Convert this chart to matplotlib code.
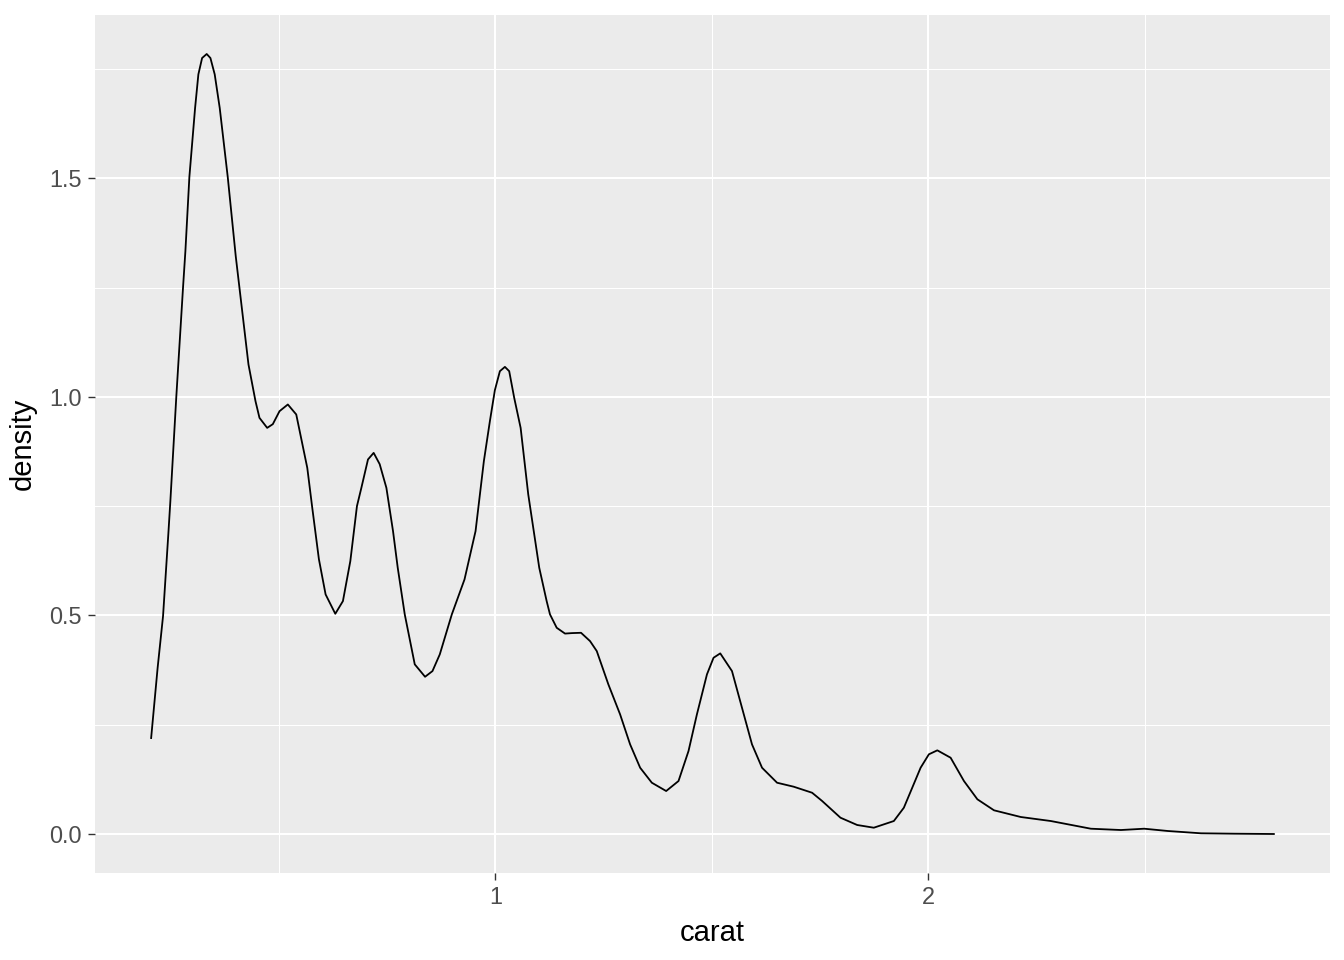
import numpy as np
import matplotlib
matplotlib.use("Agg")
import matplotlib.pyplot as plt

# density curve of carat
carat = [0.205, 0.220, 0.2325, 0.2447, 0.2494, 0.2632, 0.2787, 0.2841, 0.2933, 0.3065,
         0.3141, 0.3227, 0.3333, 0.3419, 0.3518, 0.3634, 0.3819, 0.4004, 0.4298, 0.4460,
         0.4552, 0.4730, 0.4860, 0.5015, 0.5207, 0.5401, 0.5656, 0.5771, 0.5924, 0.6079,
         0.6303, 0.6479, 0.6650, 0.6803, 0.6905, 0.7058, 0.7189, 0.7328, 0.7483, 0.7636,
         0.7745, 0.7907, 0.8138, 0.8376, 0.8547, 0.8716, 0.8994, 0.9287, 0.9542, 0.9734,
         0.9873, 0.9988, 1.0104, 1.0220, 1.0319, 1.0435, 1.0583, 1.0759, 1.1013, 1.1184,
         1.1261, 1.1416, 1.1608, 1.1770, 1.1978, 1.2186, 1.2341, 1.2609, 1.2880, 1.3111,
         1.3343, 1.3613, 1.3944, 1.4229, 1.4460, 1.4654, 1.4886, 1.5038, 1.5193, 1.5464,
         1.5695, 1.5926, 1.6158, 1.6505, 1.6889, 1.7314, 1.7546, 1.7969, 1.8355, 1.8739,
         1.9202, 1.9433, 1.9627, 1.9820, 2.0011, 2.0206, 2.0513, 2.0821, 2.1131, 2.1515,
         2.2133, 2.2826, 2.3752, 2.4446, 2.4985, 2.5526, 2.6296, 2.7060, 2.7978]
density = [0.2195, 0.3803, 0.4985, 0.6860, 0.7615, 1.0016, 1.2509, 1.3332, 1.5031, 1.6609,
           1.7379, 1.7752, 1.7844, 1.7752, 1.7379, 1.6609, 1.5031, 1.3217, 1.0741, 0.9902,
           0.9520, 0.9291, 0.9376, 0.9673, 0.9826, 0.9598, 0.8376, 0.7462, 0.6289, 0.5481,
           0.5038, 0.5328, 0.6243, 0.7501, 0.7919, 0.8569, 0.8719, 0.8461, 0.7919, 0.6929,
           0.6090, 0.5024, 0.3881, 0.3597, 0.3727, 0.4109, 0.5024, 0.5824, 0.6929, 0.8530,
           0.9444, 1.0153, 1.0588, 1.0686, 1.0588, 0.9977, 0.9291, 0.7768, 0.6090, 0.5328,
           0.5024, 0.4718, 0.4585, 0.4596, 0.4603, 0.4413, 0.4185, 0.3423, 0.2737, 0.2051,
           0.1516, 0.1173, 0.0983, 0.1212, 0.1898, 0.2737, 0.3652, 0.4032, 0.4132, 0.3727,
           0.2888, 0.2051, 0.1516, 0.1173, 0.1082, 0.0944, 0.0755, 0.0373, 0.0206, 0.0144,
           0.0297, 0.0601, 0.1059, 0.1516, 0.1823, 0.1914, 0.1745, 0.1212, 0.0794, 0.0542,
           0.0389, 0.0297, 0.0121, 0.0091, 0.0121, 0.0069, 0.0016, 0.0007, 0.0]

x_major = [1, 2]
x_minor = [0.5, 1.5, 2.5]
y_major = [0.0, 0.5, 1.0, 1.5]
y_minor = [0.25, 0.75, 1.25, 1.75]

plt.rcParams['font.family'] = ['Liberation Sans', 'DejaVu Sans']

fig = plt.figure(figsize=(13.44, 9.6), dpi=100)
ax = fig.add_axes([95 / 1344, 1 - 873 / 960, (1330 - 95) / 1344, (873 - 15) / 960])
ax.set_facecolor('#EBEBEB')

ax.plot(carat, density, color='black', lw=1.3, zorder=3)

# ggplot-style 5% expansion
xr = max(carat) - min(carat)
yr = max(density) - min(density)
ax.set_xlim(min(carat) - 0.05 * xr, max(carat) + 0.05 * xr)
ax.set_ylim(min(density) - 0.05 * yr, max(density) + 0.05 * yr)

ax.set_xticks(x_major)
ax.set_xticklabels([str(v) for v in x_major])
ax.set_yticks(y_major)
ax.set_yticklabels([f"{v:.1f}" for v in y_major])
ax.set_xticks(x_minor, minor=True)
ax.set_yticks(y_minor, minor=True)

ax.grid(which='major', color='white', lw=1.5, zorder=0)
ax.grid(which='minor', color='white', lw=0.75, zorder=0)
ax.set_axisbelow(True)

for s in ax.spines.values():
    s.set_visible(False)

ax.tick_params(which='major', length=5.3, width=1.0, color='#333333',
               labelsize=16.9, labelcolor='#4D4D4D', pad=4)
ax.tick_params(which='minor', length=0)

ax.set_xlabel('carat', fontsize=21, color='black', labelpad=7)
ax.set_ylabel('density', fontsize=21, color='black', labelpad=9)

fig.savefig('out.png', dpi=100)
